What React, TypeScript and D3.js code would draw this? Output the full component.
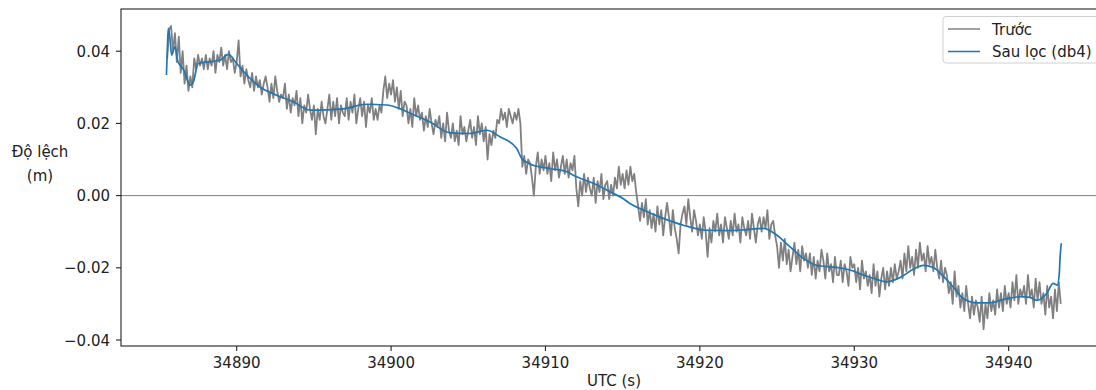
import * as d3 from "d3";

// raw signal, mm, sampled every 0.125 s starting at 34885.5
const rawT0 = 34885.5;
const rawStep = 0.125;
const rawRows: number[][] = [
  [38, 46, 47, 40],
  [45, 37, 44, 34, 40, 31, 36, 29],
  [33, 30, 38, 35, 39, 36, 38, 35],
  [39, 35, 38, 36, 40, 34, 39, 37],
  [41, 36, 39, 35, 40, 37, 38, 34],
  [37, 43, 33, 36, 31, 35, 32, 30],
  [34, 29, 33, 30, 32, 28, 31, 33],
  [30, 26, 31, 27, 33, 29, 26, 28],
  [27, 31, 24, 28, 23, 27, 25, 29],
  [22, 27, 20, 25, 23, 28, 24, 21],
  [25, 17, 24, 21, 26, 22, 20, 24],
  [28, 21, 26, 22, 27, 20, 25, 23],
  [22, 27, 21, 26, 23, 28, 20, 24],
  [27, 22, 26, 19, 25, 23, 27, 21],
  [24, 21, 25, 23, 29, 33, 27, 31],
  [28, 32, 26, 30, 24, 29, 22, 26],
  [25, 20, 24, 19, 27, 22, 25, 21],
  [23, 18, 22, 19, 24, 20, 17, 21],
  [19, 22, 16, 20, 15, 23, 18, 16],
  [20, 15, 18, 14, 22, 17, 19, 15],
  [18, 21, 16, 19, 14, 22, 17, 20],
  [15, 19, 10, 17, 14, 18, 16, 21],
  [20, 24, 21, 23, 19, 24, 22, 20],
  [23, 21, 24, 20, 8, 11, 6, 10],
  [9, 5, 0, 8, 12, 6, 10, 7],
  [11, 6, 9, 4, 12, 7, 10, 5],
  [8, 11, 6, 10, 5, 9, 7, 11],
  [2, -3, 4, 0, 6, 1, 5, 2],
  [0, 5, -2, 4, 1, 6, -1, 3],
  [4, -1, 3, 0, 5, 2, 8, 3],
  [6, 2, 7, 3, 8, 4, 6, 1],
  [-3, -7, -2, -6, -1, -8, -4, -9],
  [-5, -10, -3, -8, -4, -11, -6, -2],
  [-6, -11, -4, -9, -12, -16, -8, -5],
  [-3, -8, -1, -6, -10, -4, -7, -11],
  [-8, -12, -6, -10, -17, -9, -13, -7],
  [-10, -5, -11, -8, -13, -6, -9, -12],
  [-7, -11, -5, -10, -8, -13, -6, -9],
  [-11, -7, -12, -5, -9, -13, -8, -6],
  [-10, -6, -9, -4, -12, -8, -7, -11],
  [-14, -20, -13, -18, -12, -19, -15, -21],
  [-17, -13, -19, -15, -21, -14, -18, -16],
  [-20, -16, -22, -17, -23, -18, -21, -15],
  [-18, -23, -16, -21, -19, -24, -17, -22],
  [-22, -18, -24, -19, -21, -25, -17, -20],
  [-19, -24, -20, -26, -18, -23, -21, -25],
  [-22, -27, -19, -25, -21, -28, -23, -20],
  [-26, -21, -25, -20, -24, -19, -23, -21],
  [-18, -23, -16, -21, -14, -20, -17, -22],
  [-15, -20, -13, -18, -16, -21, -14, -19],
  [-17, -21, -15, -20, -23, -18, -24, -20],
  [-22, -27, -24, -30, -21, -28, -25, -31],
  [-27, -32, -25, -30, -34, -28, -33, -29],
  [-31, -35, -28, -37, -30, -34, -27, -32],
  [-29, -33, -26, -31, -27, -32, -25, -30],
  [-27, -31, -24, -29, -22, -30, -26, -28],
  [-25, -30, -22, -28, -26, -31, -23, -29],
  [-24, -30, -27, -33, -25, -31, -28, -34],
  [-26, -32, -24, -30],
];
const rawMm = rawRows.flat();

// db4 filtered signal (time s, value mm)
const filtT = [
  34885.45, 34885.52, 34885.57, 34885.68, 34885.79, 34886.0, 34886.2, 34886.4,
  34886.6, 34886.98, 34887.19, 34887.51, 34888.28, 34888.92, 34889.46, 34890.0,
  34890.65, 34891.51, 34892.59, 34893.67, 34894.75, 34895.4, 34896.9, 34898.42,
  34899.7, 34900.57, 34901.23, 34902.52, 34903.82, 34905.11, 34906.19, 34907.05,
  34908.13, 34908.46, 34909.21, 34910.29, 34911.37, 34912.02, 34913.1, 34914.18,
  34915.02, 34915.47, 34916.33, 34917.63, 34918.93, 34920.44, 34921.95, 34923.03,
  34924.11, 34924.97, 34925.84, 34926.7, 34927.56, 34928.86, 34929.72, 34930.58,
  34931.45, 34932.1, 34932.96, 34933.82, 34934.47, 34935.12, 34935.76, 34936.41,
  34937.06, 34937.93, 34938.79, 34939.65, 34940.73, 34941.38, 34941.81, 34942.46,
  34942.89, 34943.15, 34943.28, 34943.32, 34943.41,
];
const filtMm = [
  33.4, 42.0, 46.3, 43.5, 38.9, 41.2, 37.0, 35.9,
  34.5, 30.6, 31.5, 36.6, 37.1, 37.5, 39.1, 36.6,
  33.4, 30.1, 27.8, 26.0, 23.7, 23.7, 24.0, 25.3,
  25.1, 24.1, 22.8, 20.4, 17.4, 17.2, 18.1, 16.3,
  13.1, 10.3, 8.4, 7.5, 6.6, 5.2, 3.4, 1.05,
  -0.8, -2.2, -4.0, -6.3, -8.2, -9.6, -9.7, -9.4,
  -9.1, -10.9, -14.2, -17.4, -19.3, -19.9, -20.6, -22.0,
  -23.2, -23.9, -22.7, -20.4, -19.3, -19.9, -22.3, -25.3,
  -28.5, -29.7, -29.7, -28.8, -28.0, -28.2, -29.0, -27.1,
  -24.3, -24.8, -21.6, -17.9, -13.2,
];

const xTicks = [34890, 34900, 34910, 34920, 34930, 34940];
const yTicks = [-0.04, -0.02, 0, 0.02, 0.04];
const legendItems = [
  { label: "Trước", color: "#808080" },
  { label: "Sau lọc (db4)", color: "#1f77b4" },
];

export default function App() {
  const W = 1096;
  const H = 390;
  const left = 121, right = 1107, top = 9, bottom = 346;

  const x = d3.scaleLinear().domain([34882.507, 34946.37]).range([left, right]);
  const y = d3.scaleLinear().domain([-0.04166, 0.05169]).range([bottom, top]);
  const fmt = d3.format(".2f");

  const rawPts: [number, number][] = rawMm.map((v, i) => [rawT0 + i * rawStep, v / 1000]);
  const filtPts: [number, number][] = filtT.map((t, i) => [t, filtMm[i] / 1000]);

  const rawLine = d3.line<[number, number]>().x((d) => x(d[0])).y((d) => y(d[1]));
  const filtLine = d3
    .line<[number, number]>()
    .x((d) => x(d[0]))
    .y((d) => y(d[1]))
    .curve(d3.curveMonotoneX);

  const font = "DejaVu Sans, sans-serif";
  const ink = "#222";

  return (
    <div>
      <style>{`body{margin:0}`}</style>
      <svg width={W} height={H} style={{ display: "block", background: "#fff" }} fontFamily={font}>
        <defs>
          <clipPath id="plot">
            <rect x={left} y={top} width={right - left} height={bottom - top} />
          </clipPath>
        </defs>

        <g clipPath="url(#plot)">
          <line x1={left} x2={right} y1={y(0)} y2={y(0)} stroke="#808080" strokeWidth={1} />
          <path d={rawLine(rawPts) ?? ""} fill="none" stroke="#808080" strokeWidth={1.8} strokeLinejoin="round" />
          <path d={filtLine(filtPts) ?? ""} fill="none" stroke="#1f77b4" strokeWidth={1.7} strokeLinejoin="round" />
        </g>

        <rect x={left} y={top} width={right - left} height={bottom - top} fill="none" stroke="#222" strokeWidth={1.1} />

        {xTicks.map((t) => (
          <g key={t}>
            <line x1={x(t)} x2={x(t)} y1={bottom} y2={bottom + 5} stroke="#222" strokeWidth={1.1} />
            <text x={x(t)} y={368} textAnchor="middle" fontSize={15} fill={ink}>
              {t}
            </text>
          </g>
        ))}
        {yTicks.map((v) => (
          <g key={v}>
            <line x1={left - 5} x2={left} y1={y(v)} y2={y(v)} stroke="#222" strokeWidth={1.1} />
            <text x={110} y={y(v) + 5.5} textAnchor="end" fontSize={15} fill={ink}>
              {fmt(v)}
            </text>
          </g>
        ))}

        <text x={(left + right) / 2} y={386} textAnchor="middle" fontSize={15} fill={ink}>
          UTC (s)
        </text>
        <text x={40} y={157} textAnchor="middle" fontSize={15} fill={ink}>
          Độ lệch
        </text>
        <text x={40} y={181} textAnchor="middle" fontSize={15} fill={ink}>
          (m)
        </text>

        <g>
          <rect x={943} y={16.5} width={157} height={46.5} rx={3} fill="#fff" fillOpacity={0.8} stroke="#d0d0d0" strokeWidth={1} />
          {legendItems.map((d, i) => (
            <g key={d.label}>
              <line x1={948} x2={980} y1={29 + i * 22.5} y2={29 + i * 22.5} stroke={d.color} strokeWidth={1.5} />
              <text x={992} y={29 + i * 22.5 + 5.5} fontSize={15} fill={ink}>
                {d.label}
              </text>
            </g>
          ))}
        </g>
      </svg>
    </div>
  );
}
